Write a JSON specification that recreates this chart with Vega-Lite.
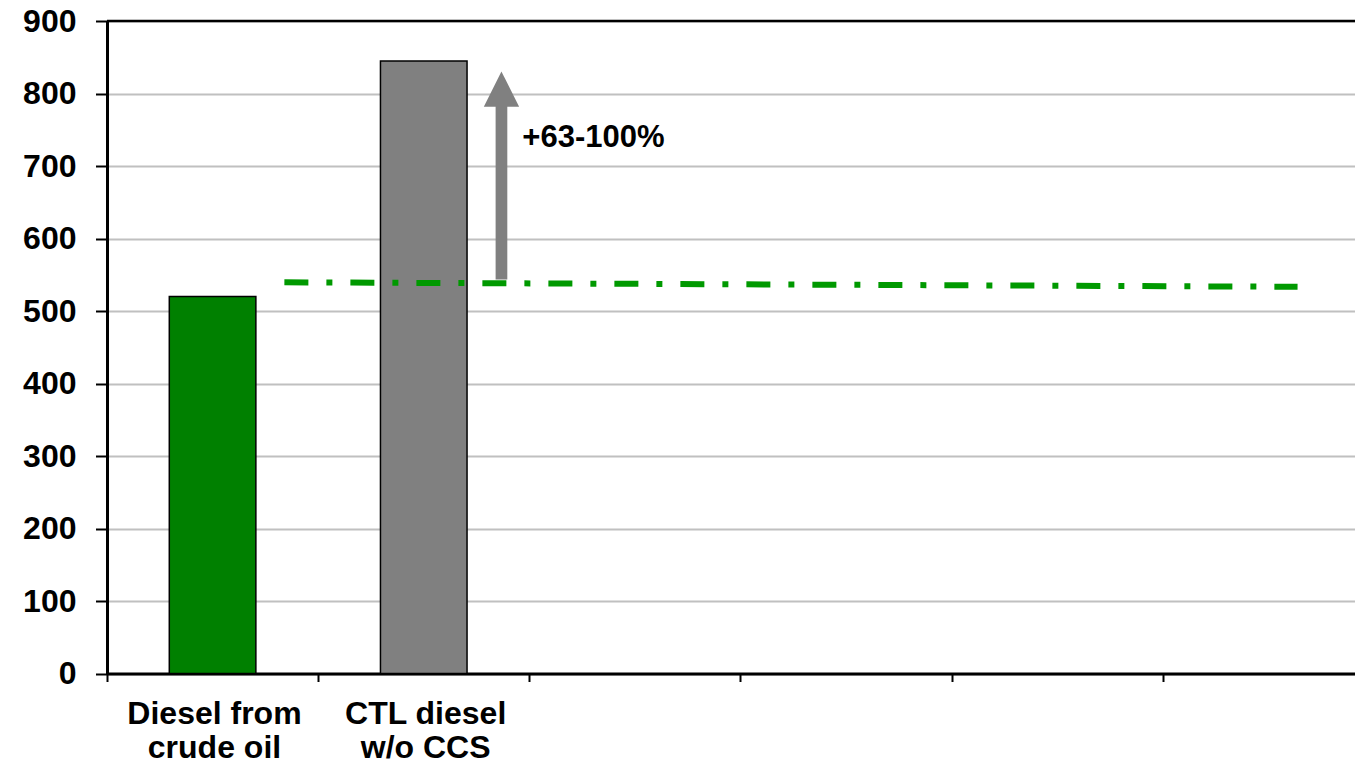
{
  "$schema": "https://vega.github.io/schema/vega-lite/v6.json",
  "width": 1248,
  "height": 652.5,
  "autosize": {"type": "none"},
  "padding": {"left": 107, "top": 21, "right": 0, "bottom": 92.5},
  "background": "white",
  "config": {"view": {"stroke": null}, "font": "Liberation Sans"},
  "datasets": {
    "bars": [
      {"fuel": "Diesel from|crude oil", "emissions": 520, "kind": "crude"},
      {"fuel": "CTL diesel|w/o CCS", "emissions": 845, "kind": "ctl"}
    ],
    "ref": [
      {"pos": 0.84, "emissions": 539.6},
      {"pos": 5.638, "emissions": 533.4}
    ],
    "shaft": [{"pos": 1.868, "from": 543.5, "to": 783}],
    "head": [{"pos": 1.868, "emissions": 806}],
    "note": [{"pos": 1.967, "emissions": 739, "text": "+63-100%"}],
    "top": [{"emissions": 900}]
  },
  "layer": [
    {
      "data": {"name": "bars"},
      "mark": {"type": "bar", "stroke": "black", "strokeWidth": 1.5},
      "encoding": {
        "x": {
          "field": "fuel",
          "type": "nominal",
          "sort": null,
          "scale": {
            "domain": ["Diesel from|crude oil", "CTL diesel|w/o CCS", "c3", "c4", "c5", "c6"],
            "range": [0, 1267],
            "paddingInner": 0.59,
            "paddingOuter": 0.295
          },
          "axis": {
            "title": null,
            "tickOffset": -105.6,
            "labelOffset": 107,
            "labelAngle": 0,
            "labelExpr": "indexof(datum.value,'|')>=0 ? split(datum.value,'|') : ''",
            "labelFont": "Liberation Sans",
            "labelFontSize": 32,
            "labelFontWeight": "bold",
            "labelColor": "black",
            "labelLineHeight": 34,
            "labelPadding": 17,
            "labelBound": false,
            "labelOverlap": false,
            "tickSize": 8,
            "tickWidth": 2,
            "tickColor": "black",
            "domainColor": "black",
            "domainWidth": 3
          }
        },
        "y": {
          "field": "emissions",
          "type": "quantitative",
          "scale": {"domain": [0, 900], "nice": false},
          "axis": {
            "title": null,
            "values": [0, 100, 200, 300, 400, 500, 600, 700, 800, 900],
            "grid": true,
            "gridColor": "#C0C0C0",
            "gridWidth": 2,
            "domainColor": "black",
            "domainWidth": 3,
            "tickColor": "black",
            "tickSize": 11.5,
            "tickWidth": 2,
            "labelFont": "Liberation Sans",
            "labelFontSize": 32,
            "labelFontWeight": "bold",
            "labelColor": "black",
            "labelPadding": 19.5
          }
        },
        "color": {
          "field": "kind",
          "type": "nominal",
          "scale": {"domain": ["crude", "ctl"], "range": ["#008000", "#808080"]},
          "legend": null
        }
      }
    },
    {
      "data": {"name": "top"},
      "mark": {"type": "rule", "color": "black", "strokeWidth": 2.7},
      "encoding": {"y": {"field": "emissions", "type": "quantitative"}}
    },
    {
      "data": {"name": "ref"},
      "mark": {"type": "line", "color": "#009900", "strokeWidth": 6, "strokeDash": [24, 18, 6, 18], "strokeCap": "butt"},
      "encoding": {
        "x": {"field": "pos", "type": "quantitative", "scale": {"domain": [0, 6], "range": [0, 1267], "nice": false, "zero": false}, "axis": null},
        "y": {"field": "emissions", "type": "quantitative"}
      }
    },
    {
      "data": {"name": "shaft"},
      "mark": {"type": "rule", "color": "#808080", "strokeWidth": 11.7, "strokeCap": "butt"},
      "encoding": {
        "x": {"field": "pos", "type": "quantitative", "scale": {"domain": [0, 6], "range": [0, 1267], "nice": false, "zero": false}, "axis": null},
        "y": {"field": "from", "type": "quantitative"},
        "y2": {"field": "to"}
      }
    },
    {
      "data": {"name": "head"},
      "mark": {"type": "point", "shape": "M-1,1L0,-1L1,1Z", "size": 1246, "filled": true, "color": "#808080", "opacity": 1, "strokeWidth": 0},
      "encoding": {
        "x": {"field": "pos", "type": "quantitative", "scale": {"domain": [0, 6], "range": [0, 1267], "nice": false, "zero": false}, "axis": null},
        "y": {"field": "emissions", "type": "quantitative"}
      }
    },
    {
      "data": {"name": "note"},
      "mark": {"type": "text", "align": "left", "baseline": "middle", "font": "Liberation Sans", "fontSize": 31, "fontWeight": "bold", "color": "black"},
      "encoding": {
        "x": {"field": "pos", "type": "quantitative", "scale": {"domain": [0, 6], "range": [0, 1267], "nice": false, "zero": false}, "axis": null},
        "y": {"field": "emissions", "type": "quantitative"},
        "text": {"field": "text"}
      }
    }
  ],
  "resolve": {"scale": {"x": "independent"}}
}
